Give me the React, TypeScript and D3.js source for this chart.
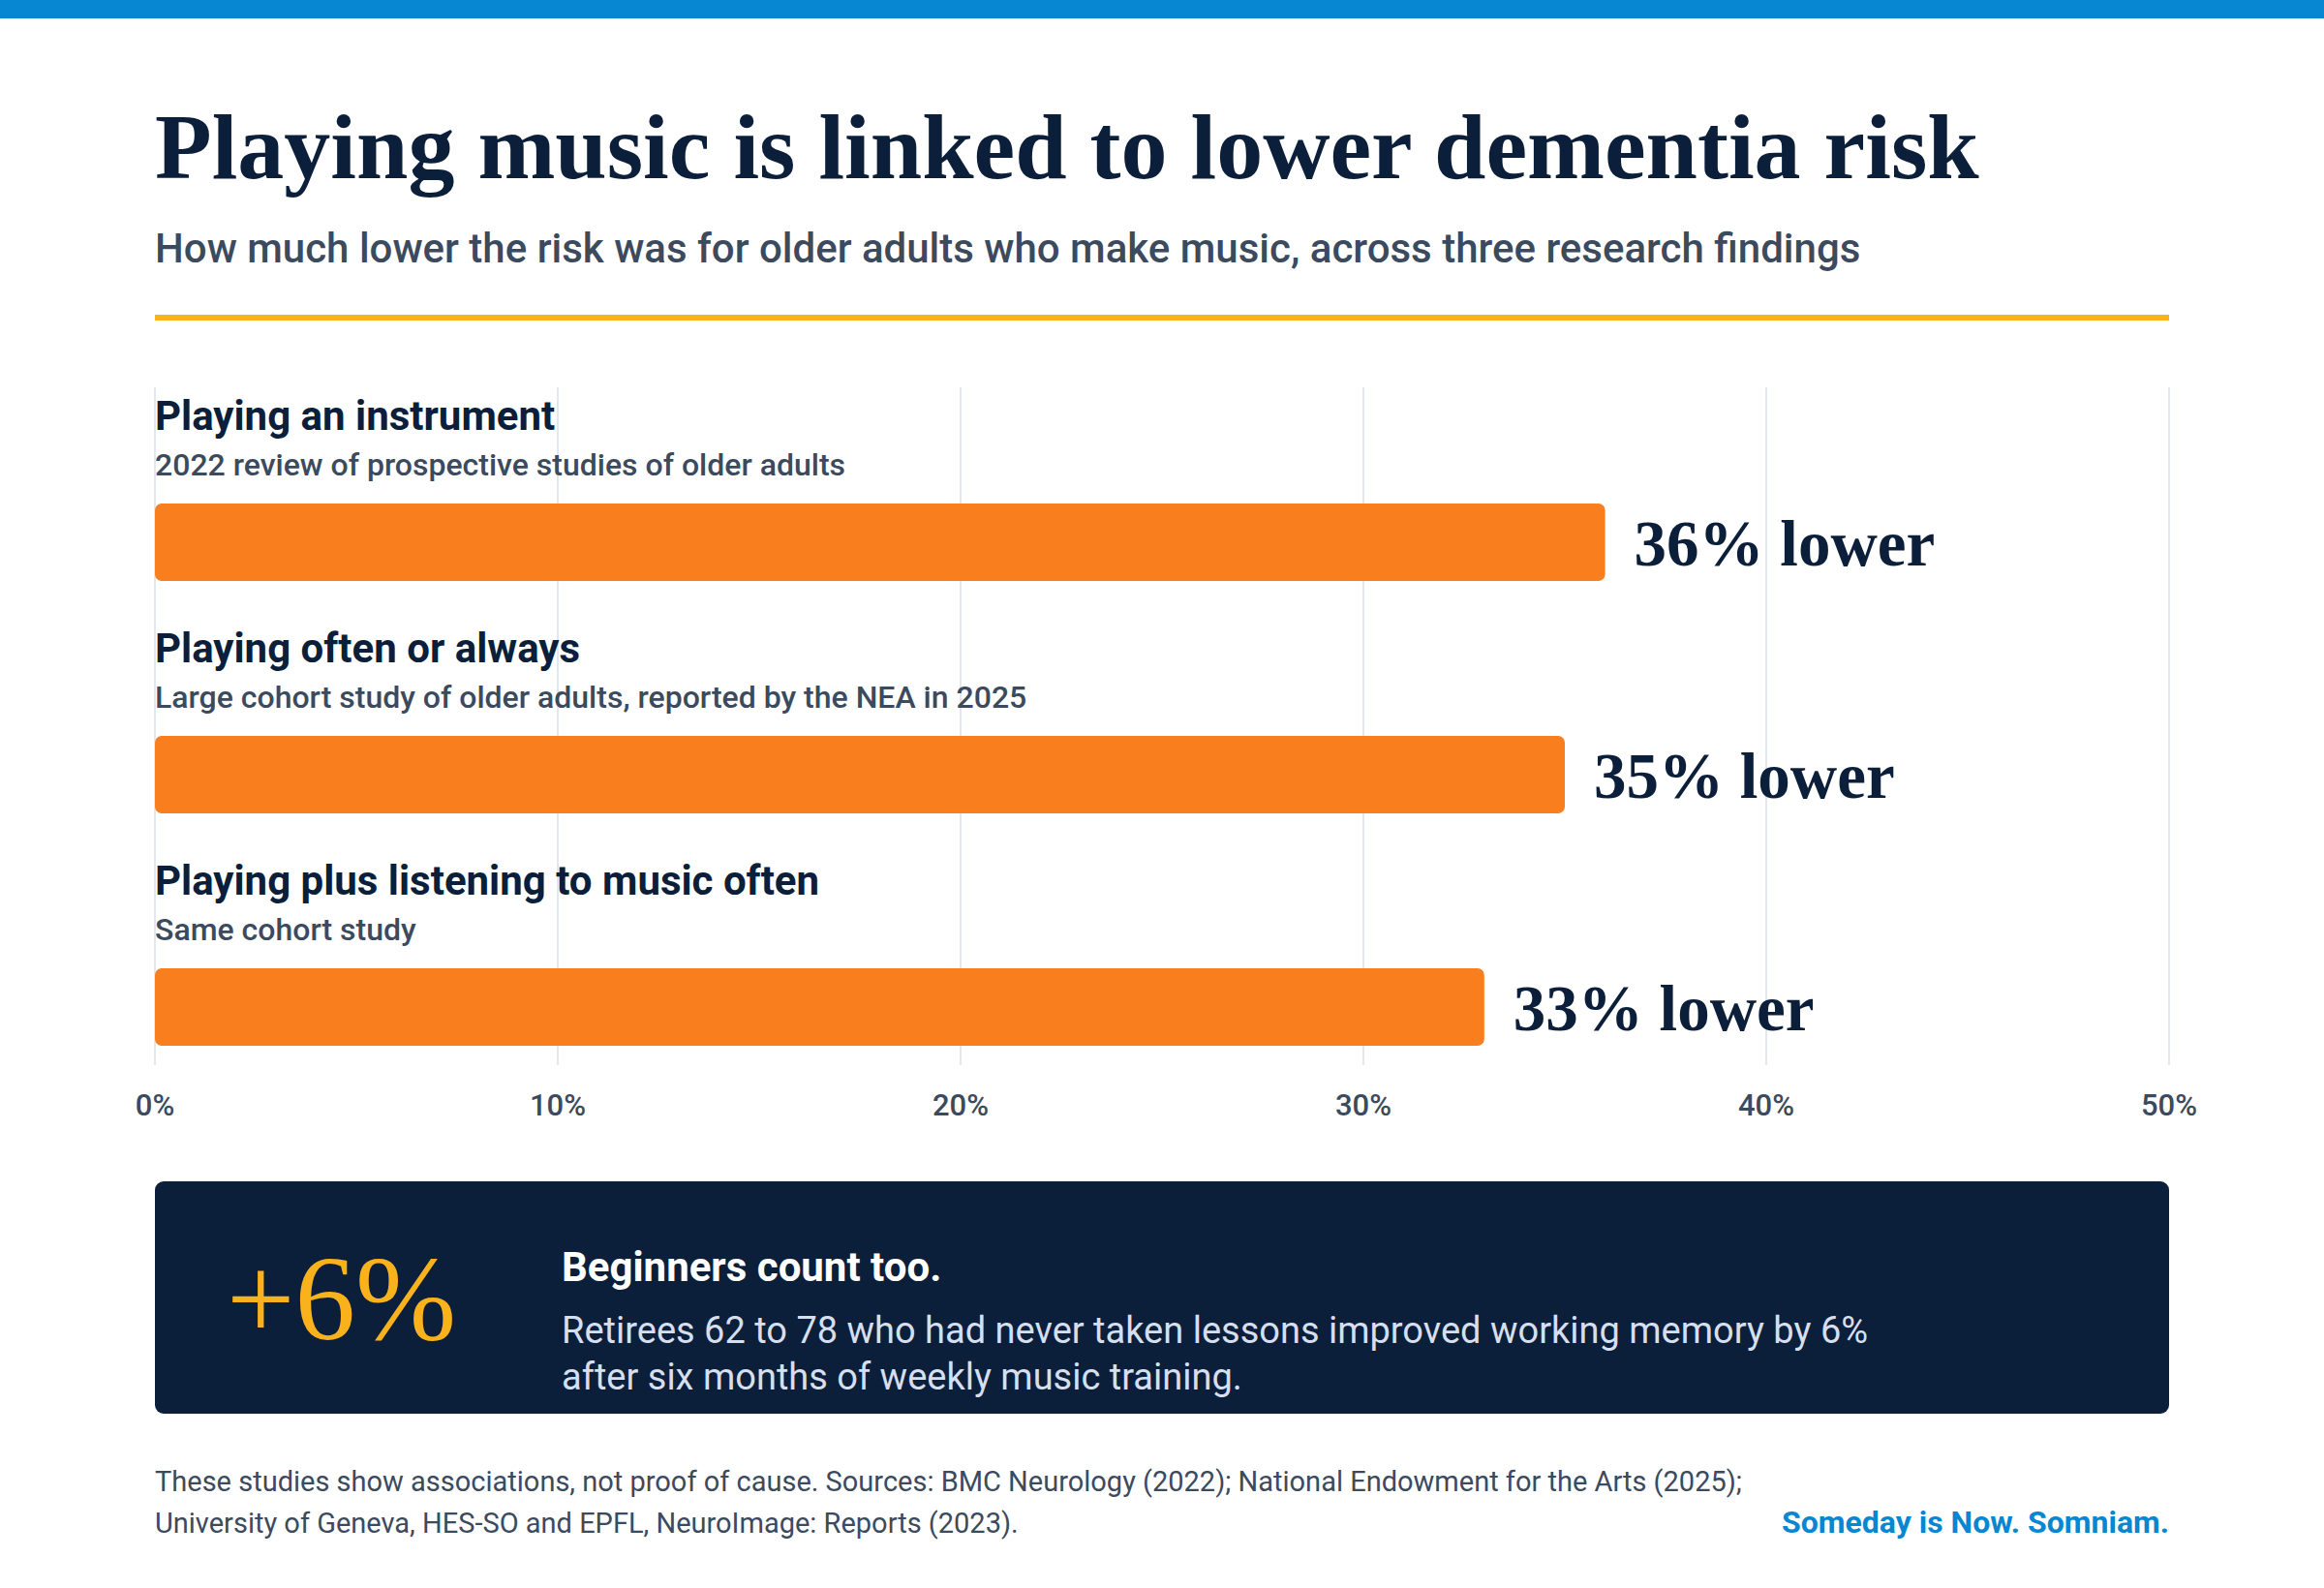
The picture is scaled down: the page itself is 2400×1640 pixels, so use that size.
import React from "react";
import * as d3 from "d3";

const categories = [
  "Playing an instrument",
  "Playing often or always",
  "Playing plus listening to music often",
];
const sublabels = [
  "2022 review of prospective studies of older adults",
  "Large cohort study of older adults, reported by the NEA in 2025",
  "Same cohort study",
];
const riskReduction = [36, 35, 33];
const tickValues = [0, 10, 20, 30, 40, 50];

const W = 2400;
const H = 1640;
const NAVY = "#0c1f3a";
const SLATE = "#3c4a5e";
const ORANGE = "#f97e1e";
const GOLD = "#f9b11c";
const BLUE = "#0786d1";
const GRID = "#e3e7ef";
const SANS = "Roboto, 'Noto Sans', sans-serif";
const SERIF = "'Liberation Serif', 'DejaVu Serif', serif";

export default function App() {
  const x = d3.scaleLinear().domain([0, 50]).range([160, 2240]);
  const y = d3.scaleBand<string>().domain(categories).range([400, 1120]);

  return (
    <div style={{ position: "absolute", left: 0, top: 0 }}>
      <svg width={W} height={H} viewBox={`0 0 ${W} ${H}`} style={{ display: "block", background: "#fff" }}>
        <rect x={0} y={0} width={W} height={H} fill="#fff" />
        <rect x={0} y={0} width={W} height={19} fill={BLUE} />

        <text x={160} y={184} fontFamily={SERIF} fontWeight={700} fontSize={96} fill={NAVY}>
          Playing music is linked to lower dementia risk
        </text>
        <text x={160} y={271} fontFamily={SANS} fontWeight={500} fontSize={42} fill={SLATE}>
          How much lower the risk was for older adults who make music, across three research findings
        </text>
        <rect x={160} y={325} width={2080} height={6} fill={GOLD} />

        {/* grid */}
        {tickValues.map((t) => (
          <g key={t}>
            <line x1={x(t)} x2={x(t)} y1={400} y2={1100} stroke={GRID} strokeWidth={2} />
            <text
              x={x(t)}
              y={1152}
              textAnchor="middle"
              fontFamily={SANS}
              fontWeight={500}
              fontSize={31}
              fill={SLATE}
            >
              {t}%
            </text>
          </g>
        ))}

        {categories.map((c, i) => {
          const y0 = y(c) as number;
          const v = riskReduction[i];
          return (
            <g key={c}>
              <text x={160} y={y0 + 44} fontFamily={SANS} fontWeight={700} fontSize={42} fill={NAVY}>
                {c}
              </text>
              <text x={160} y={y0 + 91} fontFamily={SANS} fontWeight={500} fontSize={32} fill={SLATE}>
                {sublabels[i]}
              </text>
              <rect x={x(0)} y={y0 + 120} width={x(v) - x(0)} height={80} rx={7} fill={ORANGE} />
              <text x={x(v) + 30} y={y0 + 184} fontFamily={SERIF} fontWeight={700} fontSize={67} fill={NAVY}>
                {v}% lower
              </text>
            </g>
          );
        })}

        {/* callout */}
        <rect x={160} y={1220} width={2080} height={240} rx={9} fill={NAVY} />
        <text x={234} y={1383} fontFamily={SERIF} fontSize={125} fill={GOLD}>
          +6%
        </text>
        <text x={580} y={1323} fontFamily={SANS} fontWeight={700} fontSize={42} fill="#ffffff">
          Beginners count too.
        </text>
        <text x={580} y={1387} fontFamily={SANS} fontSize={38} fill="#d5dff0">
          Retirees 62 to 78 who had never taken lessons improved working memory by 6%
        </text>
        <text x={580} y={1435} fontFamily={SANS} fontSize={38} fill="#d5dff0">
          after six months of weekly music training.
        </text>

        {/* footer */}
        <text x={160} y={1540} fontFamily={SANS} fontSize={29} fill={SLATE}>
          These studies show associations, not proof of cause. Sources: BMC Neurology (2022); National Endowment for the Arts (2025);
        </text>
        <text x={160} y={1583} fontFamily={SANS} fontSize={29} fill={SLATE}>
          University of Geneva, HES-SO and EPFL, NeuroImage: Reports (2023).
        </text>
        <text x={2240} y={1583} textAnchor="end" fontFamily={SANS} fontWeight={700} fontSize={32} fill={BLUE}>
          Someday is Now. Somniam.
        </text>
      </svg>
    </div>
  );
}
